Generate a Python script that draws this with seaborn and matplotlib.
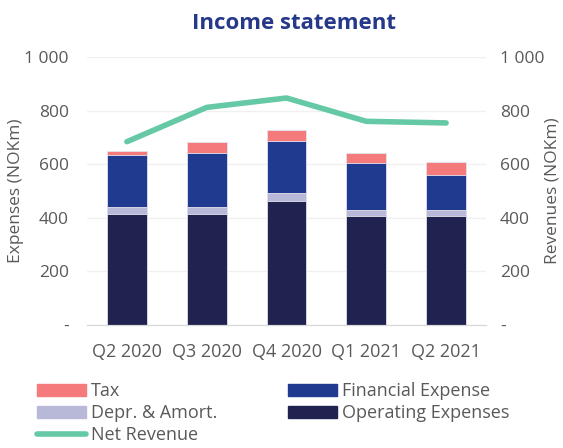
import matplotlib
matplotlib.use("Agg")
import matplotlib.pyplot as plt
import matplotlib.ticker as mticker
from matplotlib.patches import Patch
from matplotlib.lines import Line2D
import numpy as np
import pandas as pd
import seaborn as sns

# data (NOKm)
quarters = ["Q2 2020", "Q3 2020", "Q4 2020", "Q1 2021", "Q2 2021"]
operating_expenses = [413, 413, 462, 407, 408]
depr_amort = [26, 29, 32, 22, 22]
financial_expense = [194, 199, 193, 174, 130]
tax = [18, 41, 41, 39, 48]
net_revenue = [684, 812, 847, 760, 754]

c_tax = "#f47a7c"
c_fin = "#203a8f"
c_depr = "#b8b8d8"
c_opex = "#202350"
c_rev = "#66c9a6"
grey = "#595959"

sns.set_style("white")
plt.rcParams["font.family"] = ["Open Sans", "DejaVu Sans"]

df = pd.DataFrame({
    "quarter": quarters,
    "opex": operating_expenses,
    "depr": depr_amort,
    "fin": financial_expense,
    "tax": tax,
})
df["lvl_depr"] = df["opex"] + df["depr"]
df["lvl_fin"] = df["lvl_depr"] + df["fin"]
df["lvl_tax"] = df["lvl_fin"] + df["tax"]

fig, ax = plt.subplots(figsize=(5.63, 4.48), dpi=100)
fig.subplots_adjust(left=87 / 563, right=486 / 563, top=1 - 57 / 448, bottom=1 - 325 / 448)

# stacked bars: draw cumulative totals from the top segment down
for col, color in [("lvl_tax", c_tax), ("lvl_fin", c_fin), ("lvl_depr", c_depr), ("opex", c_opex)]:
    sns.barplot(data=df, x="quarter", y=col, color=color, width=0.5, ax=ax,
                edgecolor="#e4e4ee", linewidth=0.6, saturation=1, zorder=2)

ax2 = ax.twinx()
sns.lineplot(x=quarters, y=net_revenue, ax=ax2, color=c_rev, linewidth=4,
             sort=False, solid_capstyle="round", zorder=3)

def fmt(v, pos):
    if v == 0:
        return "-"
    return f"{int(v):,}".replace(",", " ")

for a, pad in ((ax, 13), (ax2, 10)):
    a.set_ylim(0, 1000)
    a.yaxis.set_major_locator(mticker.MultipleLocator(200))
    a.yaxis.set_major_formatter(mticker.FuncFormatter(fmt))
    a.tick_params(axis="y", length=0, labelsize=12.5, labelcolor=grey, pad=pad)
    for s in ("top", "left", "right"):
        a.spines[s].set_visible(False)
    a.spines["bottom"].set_color("#d9d9d9")

ax.set_xlim(-0.5, 4.5)
ax.grid(axis="y", color="#f0f0f0", linewidth=1, zorder=0)
ax.set_axisbelow(True)
ax.set_xlabel("")
ax.set_ylabel("Expenses (NOKm)", fontsize=12.5, color=grey, labelpad=0)
ax2.set_ylabel("Revenues (NOKm)", fontsize=12.5, color=grey, labelpad=0)
ax.tick_params(axis="x", which="major", length=0, labelsize=13, labelcolor=grey, pad=13)
ax.set_xticks(np.arange(-0.5, 5, 1), minor=True)
ax.tick_params(axis="x", which="minor", length=5, color="#d9d9d9", width=1)

fig.suptitle("Income statement", x=0.522, y=0.972, fontsize=16, fontweight="bold", color="#25388a")

handles = [
    Patch(color=c_tax, label="Tax"),
    Patch(color=c_depr, label="Depr. & Amort."),
    Line2D([], [], color=c_rev, linewidth=4, solid_capstyle="round", label="Net Revenue"),
    Patch(color=c_fin, label="Financial Expense"),
    Patch(color=c_opex, label="Operating Expenses"),
]
fig.legend(handles=handles, ncol=2, loc="upper left", bbox_to_anchor=(0.037, 0.183),
           frameon=False, fontsize=13, labelcolor=grey, handlelength=2.7,
           handletextpad=0.3, columnspacing=3.9, labelspacing=0.22)

fig.savefig("out.png", dpi=100)
